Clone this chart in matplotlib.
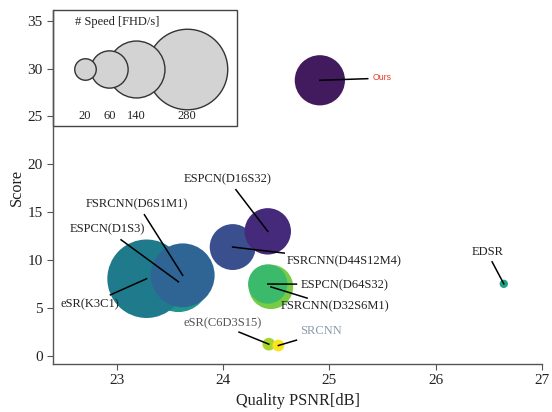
import matplotlib
matplotlib.use("Agg")
import matplotlib.pyplot as plt
from matplotlib.patches import Rectangle

plt.rcParams['font.family'] = ['Liberation Serif', 'DejaVu Serif']

# ---- data ----
models = ["ESPCN(D1S3)", "eSR(K3C1)", "FSRCNN(D6S1M1)", "FSRCNN(D44S12M4)",
          "ESPCN(D16S32)", "FSRCNN(D32S6M1)", "ESPCN(D64S32)", "eSR(C6D3S15)",
          "SRCNN", "EDSR", "Ours"]
psnr = [23.58, 23.28, 23.62, 24.09, 24.42, 24.45, 24.42, 24.43, 24.52, 26.64, 24.91]
score = [7.73, 8.05, 8.41, 11.36, 13.0, 7.2, 7.5, 1.22, 1.08, 7.52, 28.77]
speed = [158, 266, 176, 91, 93, 85, 67, 7, 6, 3, 109]
colors = ["#1f968b", "#1f7b8c", "#2e6594", "#3a4f8e", "#45297a", "#77cb45",
          "#3cba6c", "#a8d62e", "#f9e51e", "#1fa088", "#421a5e"]

legend_speeds = [280, 140, 60, 20]
legend_x = [23.66, 23.18, 22.93, 22.70]

# ---- layout for labels: (text x, text y, ha, line start x, line start y, color) ----
label_layout = {
    "ESPCN(D1S3)":      (22.91, 13.17, "center", 23.04, 12.12, "#222222"),
    "eSR(K3C1)":        (22.75, 5.43, "center", 22.94, 6.37, "#222222"),
    "FSRCNN(D6S1M1)":   (23.19, 15.78, "center", 23.26, 14.73, "#222222"),
    "FSRCNN(D44S12M4)": (24.60, 9.86, "left", 24.575, 10.73, "#222222"),
    "ESPCN(D16S32)":    (24.04, 18.39, "center", 24.12, 17.35, "#222222"),
    "FSRCNN(D32S6M1)":  (24.54, 5.15, "left", 24.79, 6.03, "#222222"),
    "ESPCN(D64S32)":    (24.73, 7.35, "left", 24.69, 7.49, "#222222"),
    "eSR(C6D3S15)":     (24.36, 3.45, "right", 24.15, 2.48, "#555555"),
    "SRCNN":            (24.72, 2.55, "left", 24.69, 1.64, "#8a9aad"),
    "EDSR":             (26.49, 10.87, "center", 26.53, 9.82, "#222222"),
    "Ours":             (25.41, 29.08, "left", 25.36, 28.94, "#e8392b"),
}

SIZE_SCALE = 12.0

fig = plt.figure(figsize=(5.52, 4.12), dpi=100)
ax = fig.add_axes([0.096, 0.1165, 0.886, 0.859])

for i, m in enumerate(models):
    ax.scatter(psnr[i], score[i], s=speed[i] * SIZE_SCALE, color=colors[i],
               edgecolors="none", zorder=2 + i * 0.01)

for i, m in enumerate(models):
    tx, ty, ha, lx, ly, tc = label_layout[m]
    ax.plot([lx, psnr[i]], [ly, score[i]], color="black", lw=1.1, zorder=5)
    if m == "Ours":
        ax.text(tx, ty, m, ha=ha, va="center", fontsize=6.3, color=tc, zorder=6,
                family=["Liberation Sans", "DejaVu Sans"])
    else:
        ax.text(tx, ty, m, ha=ha, va="center", fontsize=9, color=tc, zorder=6)

# size legend inset
ax.add_patch(Rectangle((22.4, 24.0), 1.73, 12.1, facecolor="white",
                       edgecolor="#444444", lw=1.0, zorder=1, clip_on=False))
for v, x in zip(legend_speeds, legend_x):
    ax.scatter(x, 30, s=v * SIZE_SCALE, color="#d3d3d3", edgecolors="#333333",
               linewidths=1.0, zorder=3)
    ax.text(x, 25.0, str(v), ha="center", va="center", fontsize=9, color="#222222", zorder=4)
ax.text(23.0, 34.9, "# Speed [FHD/s]", ha="center", va="center", fontsize=9,
        color="#222222", zorder=4)

ax.set_xlim(22.4, 27.0)
ax.set_ylim(-0.85, 36.1)
ax.set_xticks([23, 24, 25, 26, 27])
ax.set_yticks([0, 5, 10, 15, 20, 25, 30, 35])
ax.spines["top"].set_visible(False)
ax.spines["right"].set_visible(False)
for s in ["left", "bottom"]:
    ax.spines[s].set_color("#555555")
    ax.spines[s].set_linewidth(1.0)
ax.tick_params(direction="out", length=4, color="#555555", labelsize=11,
               labelcolor="#222222")
ax.set_xlabel("Quality PSNR[dB]", fontsize=11.7, color="#222222", labelpad=4)
ax.set_ylabel("Score", fontsize=11.7, color="#222222", labelpad=2)

fig.savefig("out.png", dpi=100)
